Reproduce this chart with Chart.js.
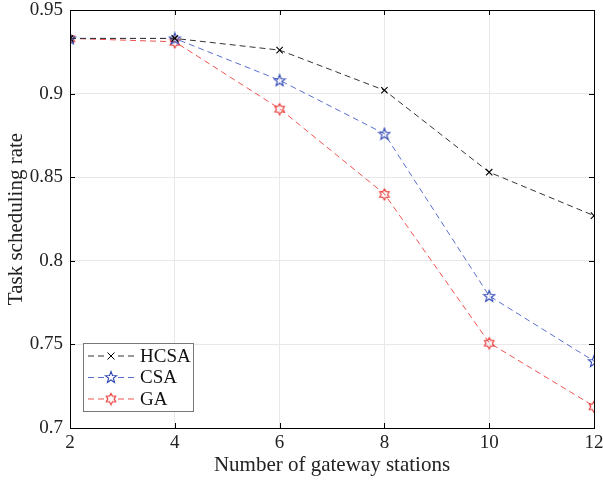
<!DOCTYPE html>
<html>
<head>
<meta charset="utf-8">
<script src="https://cdn.jsdelivr.net/npm/chart.js@4"></script>
<style>
  body { margin: 0; background: #fff; }
  #wrap { width: 603px; height: 482px; }
</style>
</head>
<body>
<div id="wrap"><canvas id="rate"></canvas></div>
<script>
// data
const stations = [2, 4, 6, 8, 10, 12];
const hcsa = [0.933, 0.933, 0.926, 0.902, 0.853, 0.827];
const csa = [0.933, 0.933, 0.908, 0.876, 0.779, 0.740];
const ga = [0.933, 0.931, 0.891, 0.840, 0.751, 0.713];
const yTicks = [0.7, 0.75, 0.8, 0.85, 0.9, 0.95];

const FONT = "'Liberation Serif', 'Times New Roman', serif";

// star markers like matlab's 'p' and 'h'
function starPath(c, x, y, n, r, ri) {
    c.beginPath();
    for (let i = 0; i < n * 2; i++) {
        const a = -Math.PI / 2 + i * Math.PI / n;
        const rr = i % 2 === 0 ? r : ri;
        const px = x + rr * Math.cos(a), py = y + rr * Math.sin(a);
        if (i === 0) c.moveTo(px, py); else c.lineTo(px, py);
    }
    c.closePath();
}
function markerCanvas(n, r, ri, color) {
    const cv = document.createElement('canvas');
    cv.width = 14; cv.height = 14;
    const c = cv.getContext('2d');
    c.strokeStyle = color; c.lineWidth = 1.1;
    starPath(c, 7, 7.5, n, r, ri);
    c.stroke();
    return cv;
}
const pentagram = markerCanvas(5, 6, 2.5, '#2f48b5');
const hexagram = markerCanvas(6, 5.5, 3.2, '#e8322e');

function pts(vals) { return stations.map((s, i) => ({x: s, y: vals[i]})); }

// box, inward ticks and legend
const framePlugin = {
    id: 'frame',
    afterDraw(chart) {
        const c = chart.ctx, a = chart.chartArea;
        const xs = chart.scales.x, ys = chart.scales.y;
        c.save();
        c.strokeStyle = '#000'; c.lineWidth = 1;
        c.strokeRect(a.left + 0.5, a.top + 0.5, a.right - a.left, a.bottom - a.top);
        c.beginPath();
        stations.forEach(s => {
            const px = Math.round(xs.getPixelForValue(s)) + 0.5;
            c.moveTo(px, a.bottom); c.lineTo(px, a.bottom - 5);
            c.moveTo(px, a.top); c.lineTo(px, a.top + 5);
        });
        yTicks.forEach(v => {
            const py = Math.round(ys.getPixelForValue(v)) + 0.5;
            c.moveTo(a.left, py); c.lineTo(a.left + 5, py);
            c.moveTo(a.right, py); c.lineTo(a.right - 5, py);
        });
        c.stroke();

        // legend box
        const bx = 83, by = 343, bw = 110, bh = 68;
        c.fillStyle = '#fff';
        c.fillRect(bx, by, bw, bh);
        c.strokeStyle = '#777';
        c.strokeRect(bx + 0.5, by + 0.5, bw, bh);
        c.font = '19px ' + FONT;
        c.textBaseline = 'middle';
        chart.data.datasets.forEach((ds, i) => {
            const ry = by + 13 + i * 21.5;
            c.strokeStyle = ds.borderColor; c.lineWidth = 1;
            c.setLineDash([6, 4]);
            c.beginPath(); c.moveTo(bx + 5, ry); c.lineTo(bx + 55, ry); c.stroke();
            c.setLineDash([]);
            const mx = bx + 28;
            c.fillStyle = '#fff';
            c.fillRect(mx - 6, ry - 6, 12, 12);
            if (ds.pointStyle === 'crossRot') {
                c.strokeStyle = '#000';
                c.beginPath();
                c.moveTo(mx - 3.5, ry - 3.5); c.lineTo(mx + 3.5, ry + 3.5);
                c.moveTo(mx + 3.5, ry - 3.5); c.lineTo(mx - 3.5, ry + 3.5);
                c.stroke();
            } else {
                c.drawImage(ds.pointStyle, mx - 7, ry - 7.5);
            }
            c.fillStyle = '#111';
            c.fillText(ds.label, bx + 57, ry + 1);
        });
        c.restore();
    }
};

const ctx = document.getElementById('rate').getContext('2d');
const rateChart = new Chart(ctx, {
    type: 'line',
    data: {
        datasets: [{
            label: 'HCSA',
            data: pts(hcsa),
            borderColor: '#333333',
            borderWidth: 1,
            borderDash: [6, 4],
            pointStyle: 'crossRot',
            pointRadius: 4.5,
            pointBorderColor: '#000',
            pointBorderWidth: 1.1
        }, {
            label: 'CSA',
            data: pts(csa),
            borderColor: '#5a6fd0',
            borderWidth: 1,
            borderDash: [6, 4],
            pointStyle: pentagram,
            pointRadius: 7
        }, {
            label: 'GA',
            data: pts(ga),
            borderColor: '#ef5350',
            borderWidth: 1,
            borderDash: [6, 4],
            pointStyle: hexagram,
            pointRadius: 7
        }]
    },
    options: {
        responsive: true,
        maintainAspectRatio: false,
        animation: false,
        layout: {padding: {top: 10, right: 9, left: 0, bottom: 0}},
        plugins: {
            legend: {display: false},
            tooltip: {enabled: false}
        },
        scales: {
            x: {
                type: 'linear', min: 2, max: 12,
                afterFit: s => { s.height = 54; s.paddingLeft = 0; s.paddingRight = 0; },
                afterBuildTicks: s => { s.ticks = stations.map(v => ({value: v})); },
                grid: {color: '#e8e8e8', drawTicks: false},
                border: {display: false},
                ticks: {color: '#222', font: {family: FONT, size: 19}, padding: 4},
                title: {display: true, text: 'Number of gateway stations', color: '#222',
                        font: {family: FONT, size: 21}, padding: {top: 0}}
            },
            y: {
                min: 0.7, max: 0.95,
                afterFit: s => { s.width = 70; s.paddingTop = 0; s.paddingBottom = 0; },
                afterBuildTicks: s => { s.ticks = yTicks.map(v => ({value: v})); },
                grid: {color: '#e8e8e8', drawTicks: false},
                border: {display: false},
                ticks: {color: '#222', font: {family: FONT, size: 19}, padding: 7,
                        callback: v => String(+v.toFixed(2))},
                title: {display: true, text: 'Task scheduling rate', color: '#222',
                        font: {family: FONT, size: 21}, padding: {bottom: 0}}
            }
        }
    },
    plugins: [framePlugin]
});
</script>
</body>
</html>
